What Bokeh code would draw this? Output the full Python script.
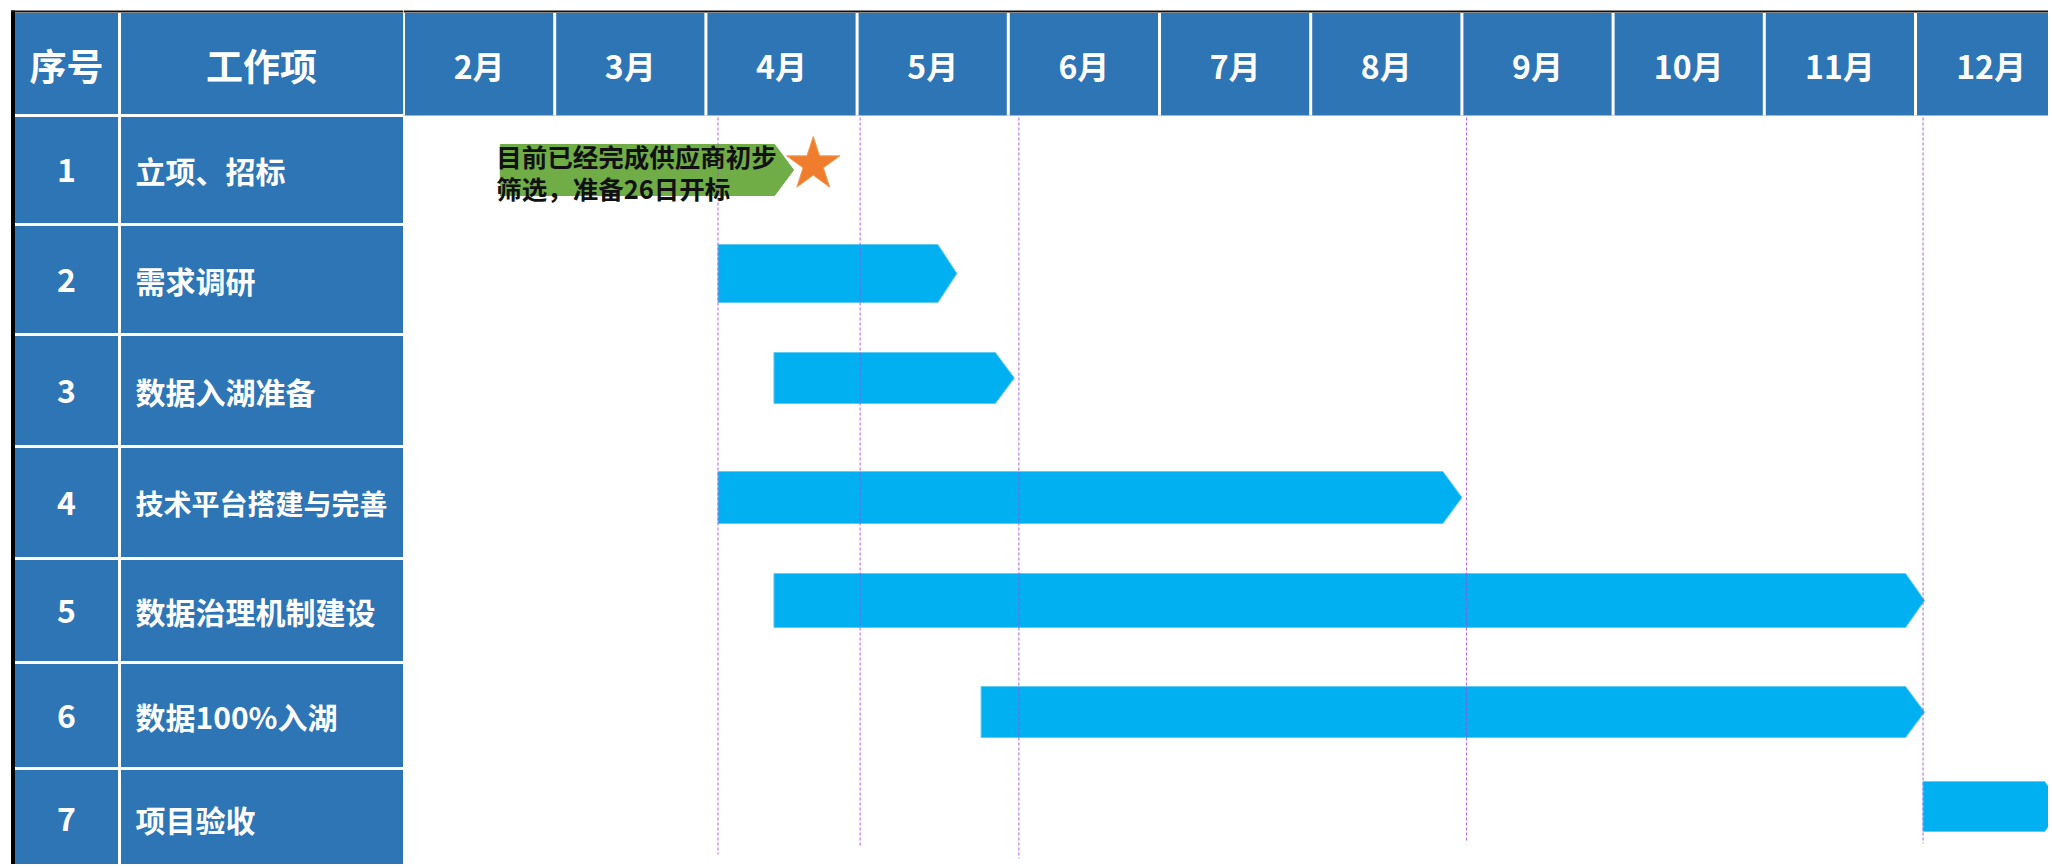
from bokeh.plotting import figure
from bokeh.layouts import row
from bokeh.models import Range1d, ColumnDataSource
from bokeh.core.properties import value
from bokeh.embed import file_html
from bokeh.resources import INLINE

# ---------------- data ----------------
task_ids = ["1", "2", "3", "4", "5", "6", "7"]
task_names = ["立项、招标", "需求调研", "数据入湖准备", "技术平台搭建与完善",
              "数据治理机制建设", "数据100%入湖", "项目验收"]
months = [2, 3, 4, 5, 6, 7, 8, 9, 10, 11, 12]
month_labels = [f"{m}月" for m in months]
# start / end expressed in months (2.0 = start of February)
start_month = [2.64, 4.08, 4.45, 4.08, 4.45, 5.82, 12.05]
end_month = [4.58, 5.66, 6.04, 9.00, 12.06, 12.06, 12.98]
milestone_months = [4.08, 5.02, 6.07, 9.03, 12.05]
note_lines = ["目前已经完成供应商初步", "筛选，准备26日开标"]
star_month = 4.71

# ---------------- layout / style ----------------
FONT = value("Noto Sans CJK SC")
BLUE = "#2E75B6"
BAR_BLUE = "#00B0F0"
GREEN = "#70AD47"
H = 864
PX_PER_MONTH = 151.2
LEFT_W = 403
RIGHT_W = 1645
HEADER_TOP, HEADER_BOT = 12.5, 115
ROW_EDGES = [115, 224, 334, 446, 558, 662, 768, 880]
COL_SPLIT = 119
TABLE_LEFT = 14.5
BAR_CENTER = [169.5, 273, 377.5, 497, 600, 711.5, 806]
BAR_HEIGHT = [51, 58, 51, 52, 54, 51, 50]
TIP_PX = 19
MILESTONE_END = [854, 846, 858, 842, 843]
NAME_SIZE = ["30px", "30px", "30px", "28px", "30px", "30px", "30px"]


def base_fig(width, xr):
    f = figure(width=width, height=H, output_backend="svg", toolbar_location=None,
               x_range=xr, y_range=Range1d(H, 0),
               x_axis_location=None, y_axis_location=None, min_border=0,
               outline_line_color=None, background_fill_color="white",
               border_fill_color="white")
    f.grid.visible = False
    return f


# ---------------- left table ----------------
left = base_fig(LEFT_W, Range1d(0, LEFT_W))
left.quad(left=TABLE_LEFT, right=403, top=HEADER_TOP, bottom=ROW_EDGES[-1],
          fill_color=BLUE, line_color=None)
left.segment(x0=COL_SPLIT, y0=HEADER_TOP, x1=COL_SPLIT, y1=ROW_EDGES[-1],
             line_color="white", line_width=3)
left.segment(x0=[TABLE_LEFT] * 7, y0=ROW_EDGES[:-1], x1=[403] * 7, y1=ROW_EDGES[:-1],
             line_color="white", line_width=3)
# black borders
left.quad(left=10.5, right=TABLE_LEFT, top=10, bottom=ROW_EDGES[-1], fill_color="black", line_color=None)
left.quad(left=10.5, right=403, top=10, bottom=12, fill_color="#111111", line_color=None)

left.text(x=[66, 261], y=[64, 64], text=["序号", "工作项"], text_font=FONT,
          text_font_style="bold", text_font_size="37px", text_color="white",
          text_align="center", text_baseline="middle")
row_centers = [(ROW_EDGES[i] + min(ROW_EDGES[i + 1], 868)) / 2 for i in range(7)]
src_rows = ColumnDataSource(dict(y=row_centers, ids=task_ids, names=task_names,
                                 xid=[66] * 7, xname=[135] * 7, fs=NAME_SIZE))
left.text(x="xid", y="y", text="ids", source=src_rows, text_font=FONT,
          text_font_style="bold", text_font_size="32px", text_color="white",
          text_align="center", text_baseline="middle")
left.text(x="xname", y="y", text="names", source=src_rows, text_font=FONT,
          text_font_style="bold", text_font_size="fs", text_color="white",
          text_align="left", text_baseline="middle")

# ---------------- right gantt ----------------
x_end = 2 + RIGHT_W / PX_PER_MONTH
right = base_fig(RIGHT_W, Range1d(2, x_end))
right.quad(left=2, right=14, top=HEADER_TOP, bottom=HEADER_BOT, fill_color=BLUE, line_color=None)
right.quad(left=2, right=14, top=10, bottom=12, fill_color="#111111", line_color=None)
right.segment(x0=months, y0=[HEADER_TOP] * len(months), x1=months, y1=[HEADER_BOT] * len(months),
              line_color="white", line_width=3)
right.text(x=[m + 0.5 for m in months], y=[64] * len(months), text=month_labels,
           text_font=FONT, text_font_style="bold", text_font_size="32px",
           text_color="white", text_align="center", text_baseline="middle")

tip = TIP_PX / PX_PER_MONTH
xs, ys, fills, lines = [], [], [], []
for i in range(len(task_ids)):
    s, e = start_month[i], end_month[i]
    c, h = BAR_CENTER[i], BAR_HEIGHT[i]
    xs.append([s, e - tip, e, e - tip, s])
    ys.append([c - h / 2, c - h / 2, c, c + h / 2, c + h / 2])
    fills.append(GREEN if i == 0 else BAR_BLUE)
    lines.append(GREEN if i == 0 else "#62CBF4")
right.patches(xs=xs, ys=ys, fill_color=fills, line_color=lines, line_width=1)

right.segment(x0=milestone_months, y0=[HEADER_BOT + 2] * 5, x1=milestone_months,
              y1=MILESTONE_END, line_color="#A64BE8", line_width=1, line_dash="3 2",
              line_alpha=0.9)

right.text(x=[start_month[0]] * 2, y=[155, 187], text=note_lines, text_font=FONT,
           text_font_style="bold", text_font_size="25.5px", text_color="#111111",
           text_align="left", text_baseline="middle", x_offset=-4)
right.scatter(x=[star_month], y=[164], marker="star", size=56,
              fill_color="#F07D2E", line_color="#F39A4E", line_width=1)

layout = row(left, right, spacing=0)
open("out.html", "w").write(file_html(layout, INLINE))
